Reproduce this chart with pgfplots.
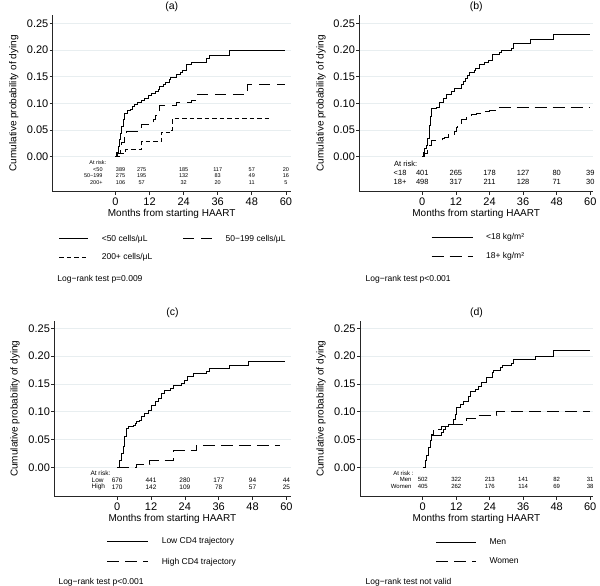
\documentclass[border=0pt]{standalone}
\usepackage{fontspec}
\setmainfont{Liberation Sans}
\usepackage{pgfplots}
\pgfplotsset{compat=1.18}

\definecolor{gridc}{RGB}{232,238,240}
\newcommand\tickfont{\fontsize{11}{12}\selectfont}
\newcommand\labfont{\fontsize{10.5}{12}\selectfont}
\newcommand\legfont{\fontsize{8.5}{10}\selectfont}
% one row of the at-risk table: y, then the numbers at 0,12,...,60 months
\newcommand\riskrow[7]{%
  \node at (axis cs:0,#1) {#2}; \node at (axis cs:12,#1) {#3};
  \node at (axis cs:24,#1) {#4}; \node at (axis cs:36,#1) {#5};
  \node at (axis cs:48,#1) {#6}; \node at (axis cs:60,#1) {#7};}
% same, first two columns shifted (panel a)
\newcommand\riskrowa[7]{%
  \node at (axis cs:1.8,#1) {#2}; \node at (axis cs:9.2,#1) {#3};
  \node at (axis cs:24,#1) {#4}; \node at (axis cs:36,#1) {#5};
  \node at (axis cs:48,#1) {#6}; \node at (axis cs:60,#1) {#7};}

\pgfplotsset{
  km/.style={
    scale only axis, axis lines*=left,
    axis line style={line width=0.7pt, black!85},
    tick align=outside, major tick length=3pt,
    major tick style={line width=0.7pt, black!85},
    xtick={0,12,24,36,48,60},
    ytick={0,0.05,0.10,0.15,0.20,0.25},
    yticklabel style={/pgf/number format/fixed, /pgf/number format/fixed zerofill,
      /pgf/number format/precision=2, inner sep=1.2pt},
    /pgf/number format/assume math mode=true,
    ymajorgrids, grid style={line width=0.6pt, gridc},
    tick label style={font=\tickfont},
    label style={font=\labfont},
    every axis title/.style={font=\labfont, at={(axis description cs:0.5,1)}, anchor=center, yshift=8.3pt},
    xlabel={Months from starting HAART},
    ylabel={Cumulative probability of dying},
    clip=false,
    legend cell align=left,
    legend style={draw=none, fill=none, inner sep=0pt, outer sep=0pt,
      anchor=north west, font=\legfont, nodes={inner sep=0pt}},
  },
  kmline/.style={const plot, line width=0.8pt, black},
}

\begin{document}
\begin{tikzpicture}
\useasboundingbox (0,0) rectangle (600pt,-586pt);

% ---------------- (a) CD4 at baseline
\begin{axis}[km, at={(52.7pt,-191.7pt)}, anchor=south west,
  width=238pt, height=176.7pt, xmin=-22.1, xmax=61.7, ymin=-0.0655, ymax=0.2654,
  title={(a)},
  every axis y label/.style={at={(axis description cs:-0.163,0.5)}, rotate=90, anchor=center},
  every axis x label/.style={at={(axis description cs:0.5,-0.126)}, anchor=center},
  legend columns=2,
  legend style={at={(axis description cs:0.0265,-0.245)}, row sep=10.6pt,
    /tikz/every odd column/.append style={column sep=13pt},
    /tikz/every even column/.append style={column sep=30.5pt}},
  legend image code/.code={\draw[#1] (0pt,0pt) -- (29pt,0pt);}]
\addplot[kmline] coordinates {(0,0) (0.5,0.008) (0.9,0.02) (1.3,0.032) (1.8,0.044) (2.2,0.056)
  (2.7,0.069) (3.3,0.081) (4.1,0.086) (5.3,0.089) (6.0,0.094) (6.8,0.098) (7.6,0.102)
  (9.2,0.106) (10.3,0.109) (11.5,0.114) (12.7,0.119) (13.9,0.122) (15.0,0.126) (15.6,0.131)
  (16.8,0.135) (17.7,0.140) (18.9,0.144) (19.4,0.149) (21.5,0.154) (22.9,0.157) (23.6,0.162)
  (25.0,0.172) (26.8,0.177) (32.0,0.185) (33.2,0.190) (40.0,0.199) (59.6,0.199)};
\addlegendentry{<50 cells/μL}
\addplot[kmline, dash pattern=on 11pt off 7pt] coordinates {(0,0) (0.8,0.007) (1.6,0.016)
  (2.2,0.026) (3.0,0.036) (4.0,0.047) (7.6,0.054) (9.2,0.060) (11.5,0.063) (13.3,0.069)
  (14.0,0.078) (15.0,0.085) (15.6,0.096) (21.5,0.102) (26.8,0.106) (28.5,0.117)
  (46.5,0.135) (59.6,0.135)};
\addlegendentry{50−199 cells/μL}
\addplot[kmline, dash pattern=on 4.5pt off 3pt] coordinates {(0,0) (1.5,0.007) (3.5,0.013)
  (9.2,0.028) (16.2,0.046) (19.6,0.050) (20.1,0.072) (54.3,0.072)};
\addlegendentry{200+ cells/μL}
\begin{scope}[font=\fontsize{5.5}{6}\selectfont]
\node[anchor=west] at (axis cs:-10.4,-0.0112) {At risk:};
\node[anchor=east] at (axis cs:-3.3,-0.0236) {<50};
\node[anchor=east] at (axis cs:-3.3,-0.0349) {50−199};
\node[anchor=east] at (axis cs:-3.3,-0.048) {200+};
\riskrowa{-0.0236}{389}{275}{185}{117}{57}{20}
\riskrowa{-0.0349}{275}{195}{132}{83}{49}{16}
\riskrowa{-0.048}{106}{57}{32}{20}{11}{5}
\end{scope}
\node[anchor=west, font=\legfont] at (axis description cs:0.005,-0.494) {Log−rank test p=0.009};
\end{axis}

% ---------------- (b) BMI
\begin{axis}[km, at={(359.3pt,-191.7pt)}, anchor=south west,
  width=233.8pt, height=176.7pt, xmin=-22.5, xmax=61, ymin=-0.0655, ymax=0.2654,
  title={(b)},
  every axis y label/.style={at={(axis description cs:-0.164,0.5)}, rotate=90, anchor=center},
  every axis x label/.style={at={(axis description cs:0.5,-0.126)}, anchor=center},
  legend columns=1,
  legend style={at={(axis description cs:0.308,-0.235)}, row sep=11.3pt,
    /tikz/every odd column/.append style={column sep=13pt}},
  legend image code/.code={\draw[#1] (0pt,0pt) -- (41pt,0pt);}]
\addplot[kmline] coordinates {(0,0) (0.5,0.008) (0.9,0.015) (1.4,0.022) (1.9,0.035)
  (2.6,0.059) (3.0,0.075) (3.4,0.090) (5.0,0.093) (6.2,0.102) (7.4,0.110) (8.6,0.116)
  (10.3,0.122) (11.5,0.128) (13.9,0.135) (14.5,0.141) (15.4,0.146) (16.1,0.152)
  (16.9,0.157) (18.5,0.161) (18.9,0.165) (20.5,0.172) (22.3,0.177) (23.5,0.180)
  (24.9,0.185) (25.2,0.192) (27.6,0.195) (28.4,0.200) (31.8,0.202) (32.6,0.212)
  (38.5,0.220) (46.7,0.229) (59.8,0.229)};
\addlegendentry{<18 kg/m²}
\addplot[kmline, dash pattern=on 12pt off 6pt] coordinates {(0,0) (0.8,0.007) (1.8,0.015)
  (2.6,0.022) (3.2,0.030) (7.0,0.034) (8.0,0.037) (9.2,0.041) (11.5,0.047) (12.2,0.055)
  (12.7,0.062) (13.9,0.070) (15.7,0.075) (17.5,0.079) (19.3,0.082) (21.5,0.085)
  (24.0,0.087) (27.6,0.093) (59.8,0.093)};
\addlegendentry{18+ kg/m²}
\begin{scope}[font=\fontsize{7.5}{8}\selectfont]
\node[anchor=west] at (axis cs:-11.3,-0.0142) {At risk:};
\node[anchor=east] at (axis cs:-4.4,-0.031) {<18};
\node[anchor=east] at (axis cs:-4.4,-0.0468) {18+};
\riskrow{-0.031}{401}{265}{178}{127}{80}{39}
\riskrow{-0.0468}{498}{317}{211}{128}{71}{30}
\end{scope}
\node[anchor=west, font=\legfont] at (axis description cs:0.012,-0.494) {Log−rank test p<0.001};
\end{axis}

% ---------------- (c) CD4 trajectory
\begin{axis}[km, at={(54.3pt,-496.7pt)}, anchor=south west,
  width=236.3pt, height=176pt, xmin=-22.3, xmax=61.5, ymin=-0.0529, ymax=0.2637,
  title={(c)},
  every axis y label/.style={at={(axis description cs:-0.166,0.5)}, rotate=90, anchor=center},
  every axis x label/.style={at={(axis description cs:0.5,-0.128)}, anchor=center},
  legend columns=1,
  legend style={at={(axis description cs:0.223,-0.233)}, row sep=12.5pt,
    /tikz/every odd column/.append style={column sep=13pt}},
  legend image code/.code={\draw[#1] (0pt,0pt) -- (41pt,0pt);}]
\addplot[kmline] coordinates {(0,0) (0.8,0.013) (1.5,0.025) (2.1,0.037) (2.7,0.055)
  (3.3,0.070) (3.9,0.074) (5.7,0.076) (6.3,0.079) (6.9,0.082) (8.0,0.085) (8.6,0.091)
  (9.8,0.097) (11.0,0.103) (12.2,0.112) (13.4,0.118) (14.6,0.124) (15.7,0.133)
  (16.9,0.138) (18.7,0.142) (19.9,0.147) (22.8,0.151) (24.0,0.156) (24.8,0.163)
  (27.2,0.169) (31.7,0.172) (32.6,0.178) (39.7,0.184) (46.5,0.191) (59.5,0.191)};
\addlegendentry{Low CD4 trajectory}
\addplot[kmline, dash pattern=on 12pt off 6pt] coordinates {(0,0) (6.9,0.006) (11.6,0.012)
  (20.1,0.030) (28.1,0.040) (57.7,0.040)};
\addlegendentry{High CD4 trajectory}
\begin{scope}[font=\fontsize{6.5}{7}\selectfont]
\node[anchor=west] at (axis cs:-10.7,-0.0108) {At risk:};
\node[anchor=west] at (axis cs:-10.3,-0.0228) {Low};
\node[anchor=west] at (axis cs:-10.3,-0.036) {High};
\riskrow{-0.0228}{676}{441}{280}{177}{94}{44}
\riskrow{-0.036}{170}{142}{109}{78}{57}{25}
\end{scope}
\node[anchor=west, font=\legfont] at (axis description cs:0.003,-0.488) {Log−rank test p<0.001};
\end{axis}

% ---------------- (d) Sex
\begin{axis}[km, at={(360pt,-496.7pt)}, anchor=south west,
  width=233pt, height=176pt, xmin=-22.5, xmax=61, ymin=-0.0529, ymax=0.2637,
  title={(d)},
  every axis y label/.style={at={(axis description cs:-0.167,0.5)}, rotate=90, anchor=center},
  every axis x label/.style={at={(axis description cs:0.5,-0.128)}, anchor=center},
  legend columns=1,
  legend style={at={(axis description cs:0.325,-0.236)}, row sep=11.9pt,
    /tikz/every odd column/.append style={column sep=13pt}},
  legend image code/.code={\draw[#1] (0pt,0pt) -- (40pt,0pt);}]
\addplot[kmline] coordinates {(0,0) (0.8,0.012) (1.4,0.021) (2.0,0.036) (2.6,0.048)
  (3.2,0.057) (6.8,0.063) (7.4,0.069) (8.0,0.074) (9.2,0.078) (11.0,0.087) (11.6,0.095)
  (12.2,0.107) (13.4,0.113) (14.6,0.119) (16.4,0.128) (17.0,0.137) (18.8,0.140)
  (20.0,0.146) (21.1,0.152) (22.9,0.161) (25.0,0.170) (25.3,0.175) (27.7,0.179)
  (28.5,0.184) (31.9,0.186) (32.5,0.194) (40.3,0.200) (46.8,0.210) (60,0.210)};
\addlegendentry{Men}
\addplot[kmline, dash pattern=on 12pt off 6pt] coordinates {(0,0) (0.8,0.012) (1.4,0.022)
  (2.0,0.035) (2.6,0.048) (3.2,0.060) (3.8,0.069) (6.8,0.073) (9.2,0.078) (15.5,0.088)
  (19.0,0.094) (26.5,0.100) (60,0.100)};
\addlegendentry{Women}
\begin{scope}[font=\fontsize{6}{6.5}\selectfont]
\node[anchor=west] at (axis cs:-11.8,-0.0108) {At risk :};
\node[anchor=east] at (axis cs:-2.8,-0.0216) {Men};
\node[anchor=east] at (axis cs:-2.8,-0.0336) {Women};
\riskrow{-0.0216}{502}{322}{213}{141}{82}{31}
\riskrow{-0.0336}{405}{262}{176}{114}{69}{38}
\end{scope}
\node[anchor=west, font=\legfont] at (axis description cs:0.009,-0.488) {Log−rank test not valid};
\end{axis}
\end{tikzpicture}
\end{document}
